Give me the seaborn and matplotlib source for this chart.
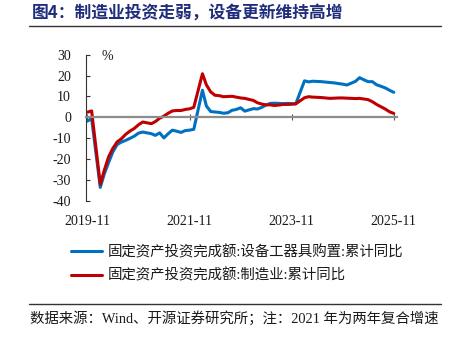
import numpy as np
import pandas as pd
import matplotlib
matplotlib.use('Agg')
import matplotlib.pyplot as plt
import matplotlib.dates as mdates
from matplotlib.lines import Line2D
import seaborn as sns

# ---------------- data ----------------
# monthly cumulative YoY (January not published -> skipped)
equip_2019 = [-1.8, -0.5]
equip_2020 = [-33.5, -27.0, -21.5, -16.5, -13.0, -11.8, -11.0, -10.0, -9.0, -7.5, -7.0]
equip_2021 = [-7.8, -8.6, -7.4, -9.8, -7.8, -6.1, -6.6, -7.2, -6.3, -6.1, -5.7]
equip_2022 = [13.0, 5.5, 2.8, 2.6, 2.4, 2.0, 2.2, 3.4, 3.8, 4.6, 3.0]
equip_2023 = [4.2, 4.0, 4.8, 5.9, 6.7, 6.8, 6.7, 6.6, 6.7, 6.6, 6.5]
equip_2024 = [17.5, 17.0, 17.3, 17.2, 17.1, 16.9, 16.7, 16.5, 16.2, 15.9, 15.5]
equip_2025 = [17.3, 19.0, 18.0, 17.1, 17.1, 15.6, 14.9, 14.1, 13.0, 12.0]

manuf_2019 = [2.5, 3.1]
manuf_2020 = [-32.0, -25.2, -18.8, -14.8, -11.7, -10.2, -8.1, -6.5, -5.3, -3.5, -2.2]
manuf_2021 = [-3.0, -2.0, -0.4, 0.6, 2.0, 3.1, 3.3, 3.3, 3.8, 4.1, 4.8]
manuf_2022 = [20.9, 15.6, 12.2, 10.6, 10.4, 9.9, 10.0, 10.1, 9.7, 9.3, 9.1]
manuf_2023 = [8.1, 7.0, 6.4, 6.0, 6.0, 5.7, 5.9, 6.2, 6.2, 6.3, 6.5]
manuf_2024 = [9.4, 9.9, 9.7, 9.6, 9.5, 9.3, 9.1, 9.2, 9.3, 9.3, 9.2]
manuf_2025 = [9.0, 9.1, 8.8, 8.5, 7.5, 6.2, 5.1, 4.0, 2.7, 1.9]

tick_months = ['2019-11', '2021-11', '2023-11', '2025-11']
yticks = [-40, -30, -20, -10, 0, 10, 20, 30]
series_names = ['固定资产投资完成额:设备工器具购置:累计同比',
                '固定资产投资完成额:制造业:累计同比']
colors = ['#0070C0', '#C00000']
title = '图4：制造业投资走弱，设备更新维持高增'
source = '数据来源：Wind、开源证券研究所；注：2021 年为两年复合增速'

# ---------------- build table ----------------
all_months = pd.date_range('2019-11-01', '2025-11-01', freq='MS')
dates = all_months[all_months.month != 1]
equip = equip_2019 + equip_2020 + equip_2021 + equip_2022 + equip_2023 + equip_2024 + equip_2025
manuf = manuf_2019 + manuf_2020 + manuf_2021 + manuf_2022 + manuf_2023 + manuf_2024 + manuf_2025
df = pd.DataFrame({
    'date': list(dates) * 2,
    'value': equip + manuf,
    'series': [series_names[0]] * len(dates) + [series_names[1]] * len(dates),
})

# ---------------- style ----------------
sns.set_theme(style='white')
plt.rcParams['font.family'] = ['Liberation Serif', 'Noto Sans CJK SC', 'DejaVu Sans']
plt.rcParams['axes.unicode_minus'] = False

W, H = 452, 344
fig = plt.figure(figsize=(W / 100, H / 100), dpi=100)
L, R, T, B = 86.3, 397.0, 54.7, 201.0
ax = fig.add_axes([L / W, 1 - B / H, (R - L) / W, (B - T) / H])

sns.lineplot(data=df, x='date', y='value', hue='series', hue_order=series_names,
             palette=colors, linewidth=2.2, errorbar=None, ax=ax)

ax.set_xlabel('')
ax.set_ylabel('')
ax.set_ylim(-40, 30)
ax.set_yticks(yticks)
ax.set_yticklabels([str(v) for v in yticks])
tick_dates = pd.to_datetime(tick_months)
ax.set_xticks(tick_dates)
ax.set_xlim(pd.Timestamp('2019-10-24'), pd.Timestamp('2025-11-24'))

for s in ['top', 'right']:
    ax.spines[s].set_visible(False)
ax.spines['left'].set_color('#333333')
ax.spines['left'].set_linewidth(0.8)
ax.spines['bottom'].set_position(('data', 0))
ax.spines['bottom'].set_color('#8c8c8c')
ax.spines['bottom'].set_linewidth(1.6)

ax.tick_params(axis='y', direction='in', length=3, width=0.8, color='#333333',
               pad=11, labelsize=10, labelcolor='#1a1a1a', left=True)
ax.tick_params(axis='x', direction='inout', length=4, width=0.8, color='#555555',
               labelbottom=False, bottom=True)

sec = ax.secondary_xaxis('bottom')
sec.set_xticks(mdates.date2num(tick_dates))
sec.set_xticklabels(tick_months)
sec.tick_params(length=0, pad=10, labelsize=10, labelcolor='#1a1a1a')
sec.spines['bottom'].set_visible(False)

ax.text(0.067, 0.991, '%', transform=ax.transAxes, ha='center', va='center',
        fontsize=10, color='#1a1a1a')

sns.move_legend(ax, 'upper left', bbox_to_anchor=(71 / W, 1 - 245 / H),
                bbox_transform=fig.transFigure, frameon=False, title=None,
                fontsize=10.4, handlelength=2.15, handletextpad=0.42,
                labelspacing=0.62, borderpad=0, borderaxespad=0)
for txt in ax.get_legend().get_texts():
    txt.set_color('#1a1a1a')

fig.text(31.7 / W, 1 - 12.7 / H, title, ha='left', va='center', fontsize=12.1,
         fontweight='bold', color='#1F2D7B',
         family=['Noto Sans CJK SC', 'DejaVu Sans'])
fig.add_artist(Line2D([29 / W, 441 / W], [1 - 26 / H] * 2, color='#333333', lw=1.0))
fig.add_artist(Line2D([29 / W, 441 / W], [1 - 304 / H] * 2, color='#333333', lw=1.0))
fig.text(30 / W, 1 - 318 / H, source, ha='left', va='center', fontsize=10.4,
         color='#1a1a1a')

fig.savefig('out.png', dpi=100)
